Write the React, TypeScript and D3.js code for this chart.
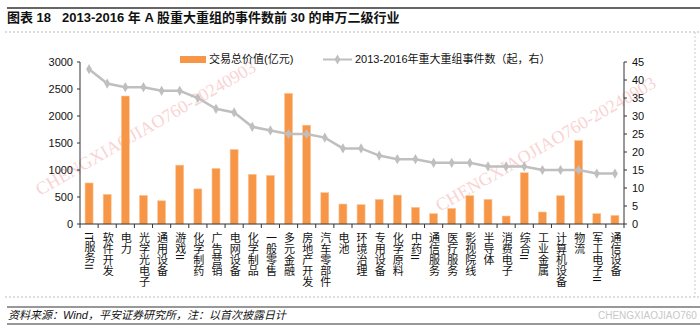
import React from "react";
import * as d3 from "d3";

const categories = [
  "IT服务II", "软件开发", "电力", "光学光电子", "通用设备", "游戏II", "化学制药", "广告营销",
  "电网设备", "化学制品", "一般零售", "多元金融", "房地产开发", "汽车零部件", "电池", "环境治理",
  "专用设备", "化学原料", "中药II", "通信服务", "医疗服务", "影视院线", "半导体", "消费电子",
  "综合II", "工业金属", "计算机设备", "物流", "军工电子II", "通信设备",
];
const dealValue = [
  760, 550, 2370, 530, 430, 1090, 650, 1030, 1380, 920, 900, 2420, 1830, 580, 370, 358,
  456, 536, 308, 191, 290, 524, 456, 148, 949, 222, 524, 1547, 191, 160,
];
const eventCount = [
  43, 39, 38, 38, 37, 37, 35, 32, 31, 27, 26, 25, 25, 24, 21, 21,
  19, 18, 18, 17, 17, 17, 16, 16, 16, 15, 15, 15, 14, 14,
];
const leftTicks = [0, 500, 1000, 1500, 2000, 2500, 3000];
const rightTicks = [0, 5, 10, 15, 20, 25, 30, 35, 40, 45];
const titleLabel = "图表 18";
const title = "2013-2016 年 A 股重大重组的事件数前 30 的申万二级行业";
const legendBar = "交易总价值(亿元)";
const legendLine = "2013-2016年重大重组事件数（起，右）";
const source = "资料来源：Wind，平安证券研究所，注：以首次披露日计";

const FONT = "'Liberation Sans', 'Noto Sans CJK SC', sans-serif";

export default function App() {
  const W = 700, H = 329;
  const x0 = 80, x1 = 624, yTop = 62, yBot = 224;
  const x = d3.scaleBand<string>().domain(categories).range([x0, x1]).paddingInner(0).paddingOuter(0);
  const yL = d3.scaleLinear().domain([0, 3000]).range([yBot, yTop]);
  const yR = d3.scaleLinear().domain([0, 45]).range([yBot, yTop]);
  const barW = 8;
  const cx = (c: string) => (x(c) as number) + x.bandwidth() / 2;
  const line = d3.line<number>().x((_, i) => cx(categories[i])).y((d) => yR(d));
  const diamond = d3.symbol().type(d3.symbolDiamond).size(30)();

  return (
    <svg width={W} height={H} style={{ position: "absolute", left: 0, top: 0, background: "#fff" }} fontFamily={FONT}>
      {/* header */}
      <line x1={7} x2={700} y1={8} y2={8} stroke="#333" strokeWidth={1.5} />
      <text x={7} y={22} fontSize={13} fontWeight="bold" fill="#111">{titleLabel}</text>
      <text x={62} y={22} fontSize={13} fontWeight="bold" fill="#111">{title}</text>
      <line x1={5} x2={700} y1={32} y2={32} stroke="#bbb" strokeWidth={1} strokeDasharray="2,2" />

      {/* watermarks */}
      <text x={40} y={196} fontSize={18} fill="#f4a0a0" opacity={0.45} transform="rotate(-30 40 196)" fontFamily="'Liberation Serif', serif">CHENGXIAOJIAO760-20240903</text>
      <text x={440} y={212} fontSize={18} fill="#f4a0a0" opacity={0.45} transform="rotate(-30 440 212)" fontFamily="'Liberation Serif', serif">CHENGXIAOJIAO760-20240903</text>

      {/* bars */}
      {categories.map((c, i) => (
        <rect key={c} x={cx(c) - barW / 2} y={yL(dealValue[i])} width={barW} height={yBot - yL(dealValue[i])} fill="#F79646" stroke="#FBC89A" strokeWidth={0.6} />
      ))}

      {/* line */}
      <path d={line(eventCount) as string} fill="none" stroke="#BFBFBF" strokeWidth={2.5} />
      {eventCount.map((v, i) => (
        <path key={i} d={diamond as string} transform={`translate(${cx(categories[i])},${yR(v)})`} fill="#BFBFBF" />
      ))}

      {/* left axis */}
      <line x1={x0} x2={x0} y1={yTop} y2={yBot} stroke="#333" strokeWidth={1} />
      {leftTicks.map((t) => (
        <g key={t}>
          <line x1={x0 - 3} x2={x0} y1={yL(t)} y2={yL(t)} stroke="#333" />
          <text x={x0 - 7} y={yL(t)} dy="0.35em" textAnchor="end" fontSize={11} fill="#111">{t}</text>
        </g>
      ))}
      {/* right axis */}
      <line x1={x1} x2={x1} y1={yTop} y2={yBot} stroke="#333" strokeWidth={1} />
      {rightTicks.map((t) => (
        <g key={t}>
          <line x1={x1} x2={x1 + 3} y1={yR(t)} y2={yR(t)} stroke="#333" />
          <text x={x1 + 8} y={yR(t)} dy="0.35em" textAnchor="start" fontSize={11} fill="#111">{t}</text>
        </g>
      ))}
      {/* x axis */}
      <line x1={x0} x2={x1} y1={yBot} y2={yBot} stroke="#333" strokeWidth={1} />
      {categories.map((c) => (
        <line key={"t" + c} x1={x(c) as number} x2={x(c) as number} y1={yBot} y2={yBot + 4} stroke="#333" />
      ))}
      <line x1={x1} x2={x1} y1={yBot} y2={yBot + 4} stroke="#333" />
      {categories.map((c) => (
        <text key={"l" + c} x={cx(c)} y={232} fontSize={11} fill="#111" style={{ writingMode: "vertical-rl" }}>{c}</text>
      ))}

      {/* legend */}
      <rect x={180} y={56} width={26} height={7} fill="#F79646" />
      <text x={209} y={59.5} dy="0.35em" fontSize={11} fill="#111">{legendBar}</text>
      <line x1={323} x2={352} y1={59.5} y2={59.5} stroke="#BFBFBF" strokeWidth={2} />
      <path d={diamond as string} transform="translate(337.5,59.5)" fill="#BFBFBF" />
      <text x={355} y={59.5} dy="0.35em" fontSize={11} fill="#111">{legendLine}</text>

      {/* footer */}
      <line x1={5} x2={700} y1={297} y2={297} stroke="#bbb" strokeWidth={1} strokeDasharray="2,2" />
      <line x1={7} x2={700} y1={307} y2={307} stroke="#333" strokeWidth={1.2} />
      <text x={8} y={319} fontSize={11} fontStyle="italic" fill="#111">{source}</text>
      <line x1={7} x2={700} y1={324} y2={324} stroke="#333" strokeWidth={1.2} />
      <text x={598} y={319} fontSize={10} fill="#c8c8c8">CHENGXIAOJIAO760</text>
      <line x1={695} x2={695} y1={32} y2={297} stroke="#ccc" strokeDasharray="2,2" />
    </svg>
  );
}
